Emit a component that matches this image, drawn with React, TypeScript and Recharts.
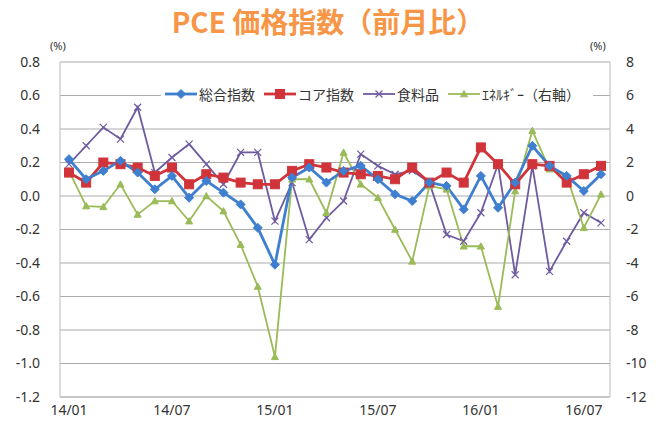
import React from 'react';
import { LineChart, Line, XAxis, YAxis, CartesianGrid, Legend } from 'recharts';

const months = [
  '14/01','14/02','14/03','14/04','14/05','14/06','14/07','14/08','14/09','14/10','14/11','14/12',
  '15/01','15/02','15/03','15/04','15/05','15/06','15/07','15/08','15/09','15/10','15/11','15/12',
  '16/01','16/02','16/03','16/04','16/05','16/06','16/07','16/08'
];
const total = [0.22,0.10,0.15,0.21,0.14,0.04,0.12,-0.01,0.09,0.02,-0.05,-0.19,-0.41,0.11,0.17,0.08,0.15,0.18,0.10,0.01,-0.03,0.08,0.06,-0.08,0.12,-0.07,0.08,0.30,0.18,0.12,0.03,0.13];
const core = [0.14,0.08,0.20,0.19,0.17,0.12,0.17,0.07,0.13,0.11,0.08,0.07,0.07,0.15,0.19,0.17,0.14,0.13,0.12,0.10,0.17,0.08,0.14,0.08,0.29,0.19,0.07,0.19,0.18,0.08,0.13,0.18];
const food = [0.19,0.30,0.41,0.34,0.53,0.14,0.23,0.31,0.19,0.07,0.26,0.26,-0.15,0.08,-0.26,-0.13,-0.03,0.25,0.18,0.13,0.15,0.08,-0.23,-0.27,-0.10,0.19,-0.47,0.18,-0.45,-0.27,-0.10,-0.16];
const energy = [1.5,-0.6,-0.65,0.7,-1.1,-0.3,-0.3,-1.5,0.0,-0.9,-2.9,-5.4,-9.6,1.0,1.0,-1.0,2.6,0.7,-0.1,-2.0,-3.9,0.6,0.4,-3.0,-3.0,-6.6,0.3,3.9,1.6,1.2,-1.9,0.1];

const leftTicks = [-1.2,-1.0,-0.8,-0.6,-0.4,-0.2,0,0.2,0.4,0.6,0.8];
const rightTicks = [-12,-10,-8,-6,-4,-2,0,2,4,6,8];

const seriesNames = { total: '総合指数', core: 'コア指数', food: '食料品', energy: 'ｴﾈﾙｷﾞｰ（右軸）' };
const legendOrder = ['total', 'core', 'food', 'energy'];
const title = 'PCE 価格指数（前月比）';

const BLUE = '#3F7FCF';
const RED = '#D0343A';
const PURPLE = '#6F5BA0';
const GREEN = '#9BBB59';

const data = months.map((m, i) => ({ month: m, total: total[i], core: core[i], food: food[i], energy: energy[i] }));

const marker = (kind: string, cx: number, cy: number, color: string) => {
  if (kind === 'diamond') {
    const s = 4.5;
    return <path d={`M${cx},${cy - s}L${cx + s},${cy}L${cx},${cy + s}L${cx - s},${cy}Z`} fill={color} stroke={color} />;
  }
  if (kind === 'square') {
    const s = 4.5;
    return <rect x={cx - s} y={cy - s} width={2 * s} height={2 * s} fill={color} stroke={color} />;
  }
  if (kind === 'x') {
    const s = 3.5;
    return <path d={`M${cx - s},${cy - s}L${cx + s},${cy + s}M${cx - s},${cy + s}L${cx + s},${cy - s}`} stroke={color} strokeWidth={1.2} fill="none" />;
  }
  const s = 3.5;
  return <path d={`M${cx},${cy - s}L${cx + s},${cy + s * 0.8}L${cx - s},${cy + s * 0.8}Z`} fill={color} stroke={color} />;
};

const makeDot = (kind: string, color: string) => (p: any) => {
  const { cx, cy, index } = p;
  if (cx == null || cy == null) return <g key={`k${index}`} />;
  return <g key={`${kind}${index}`}>{marker(kind, cx, cy, color)}</g>;
};

const kinds: Record<string, string> = { total: 'diamond', core: 'square', food: 'x', energy: 'tri' };

const LegendContent = (props: any) => {
  const payload = [...(props.payload || [])].sort(
    (a: any, b: any) => legendOrder.indexOf(a.dataKey) - legendOrder.indexOf(b.dataKey)
  );
  return (
    <div style={{ display: 'flex', alignItems: 'center', background: '#fff', padding: '1px 4px', fontFamily: '"Noto Sans CJK JP", sans-serif', fontSize: 14, color: '#333', whiteSpace: 'nowrap' }}>
      {payload.map((it: any) => (
        <span key={it.dataKey} style={{ display: 'flex', alignItems: 'center', marginRight: 9 }}>
          <svg width={32} height={12}>
            <line x1={0} y1={6} x2={32} y2={6} stroke={it.color} strokeWidth={it.dataKey === 'food' || it.dataKey === 'energy' ? 1.8 : 2.8} />
            {marker(kinds[it.dataKey], 16, 6, it.color)}
          </svg>
          <span style={{ marginLeft: 2 }}>{it.value}</span>
        </span>
      ))}
    </div>
  );
};

const tickFont = { fontSize: 14, fill: '#333', fontFamily: '"Noto Sans", sans-serif' };

export default function App() {
  return (
    <div style={{ position: 'absolute', left: 0, top: 0, width: 656, height: 432, background: '#fff' }}>
      <div style={{ position: 'absolute', left: 0, top: 4, width: 656, textAlign: 'center', color: '#F79646', fontSize: 28, fontWeight: 700, fontFamily: '"Noto Sans CJK JP", sans-serif', lineHeight: '34px' }}>
        {title}
      </div>
      <div style={{ position: 'absolute', left: 50, top: 38, fontSize: 11, color: '#333', fontFamily: '"Noto Sans", sans-serif' }}>(%)</div>
      <div style={{ position: 'absolute', left: 590, top: 38, fontSize: 11, color: '#333', fontFamily: '"Noto Sans", sans-serif' }}>(%)</div>
      <LineChart width={656} height={432} data={data} margin={{ top: 62, right: 0, bottom: 0, left: 0 }}>
        <CartesianGrid vertical={false} stroke="#ABABAB" yAxisId="left" />
        <XAxis dataKey="month" interval={5} tickLine={false} axisLine={{ stroke: '#BBBBBB' }} height={35} tickMargin={2}
          tick={tickFont} padding={{ left: 9, right: 9 }} />
        <YAxis yAxisId="left" domain={[-1.2, 0.8]} ticks={leftTicks} width={60} tickLine={false} tickMargin={14}
          axisLine={{ stroke: '#BBBBBB' }} tick={tickFont} tickFormatter={(v: number) => v.toFixed(1)} allowDataOverflow />
        <YAxis yAxisId="right" orientation="right" domain={[-12, 8]} ticks={rightTicks} width={46} tickLine={false} tickMargin={10}
          axisLine={{ stroke: '#BBBBBB' }} tick={tickFont} allowDataOverflow />
        <Legend layout="horizontal" verticalAlign="middle" align="center" content={<LegendContent />}
          wrapperStyle={{ position: 'absolute', top: 83, left: 161, width: 'auto' }} />
        <Line yAxisId="left" dataKey="food" name={seriesNames.food} stroke={PURPLE} strokeWidth={1.8} dot={makeDot('x', PURPLE)} isAnimationActive={false} />
        <Line yAxisId="right" dataKey="energy" name={seriesNames.energy} stroke={GREEN} strokeWidth={1.8} dot={makeDot('tri', GREEN)} isAnimationActive={false} />
        <Line yAxisId="left" dataKey="core" name={seriesNames.core} stroke={RED} strokeWidth={2.8} dot={makeDot('square', RED)} isAnimationActive={false} />
        <Line yAxisId="left" dataKey="total" name={seriesNames.total} stroke={BLUE} strokeWidth={2.8} dot={makeDot('diamond', BLUE)} isAnimationActive={false} />
      </LineChart>
    </div>
  );
}
